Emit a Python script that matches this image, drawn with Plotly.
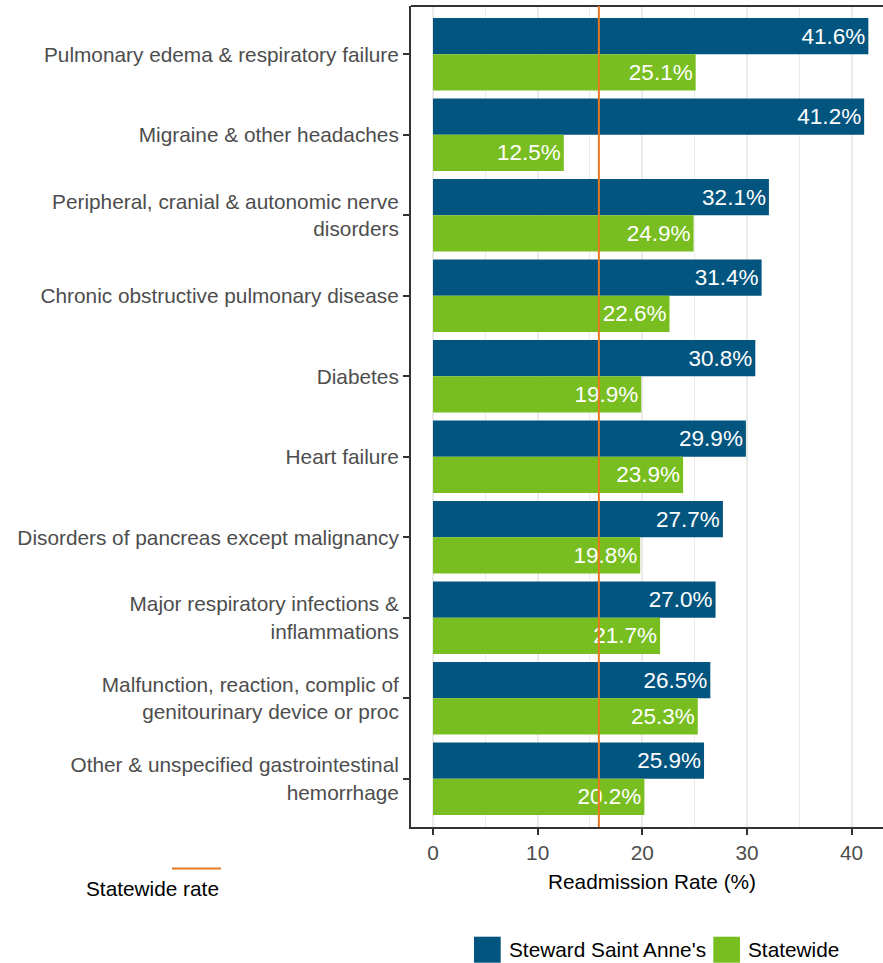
import plotly.graph_objects as go

categories = [
    "Pulmonary edema & respiratory failure",
    "Migraine & other headaches",
    "Peripheral, cranial & autonomic nerve<br>disorders",
    "Chronic obstructive pulmonary disease",
    "Diabetes",
    "Heart failure",
    "Disorders of pancreas except malignancy",
    "Major respiratory infections &<br>inflammations",
    "Malfunction, reaction, complic of<br>genitourinary device or proc",
    "Other & unspecified gastrointestinal<br>hemorrhage",
]
hospital_name = "Steward Saint Anne's"
hospital_rates = [41.6, 41.2, 32.1, 31.4, 30.8, 29.9, 27.7, 27.0, 26.5, 25.9]
statewide_name = "Statewide"
statewide_rates = [25.1, 12.5, 24.9, 22.6, 19.9, 23.9, 19.8, 21.7, 25.3, 20.2]
statewide_rate = 15.85
x_ticks = [0, 10, 20, 30, 40]

BLUE = "#02557F"
GREEN = "#78BE20"
ORANGE = "#E87722"
FONT = "Liberation Sans, Arial, sans-serif"

W, H = 883, 963
ML, MR, MT, MB = 411, 0, 6, 136
PW, PH = W - ML - MR, H - MT - MB


def px(x):
    return (x - ML) / PW


def py(y):
    return (H - MB - y) / PH


fig = go.Figure()
for name, vals, col in [(hospital_name, hospital_rates, BLUE), (statewide_name, statewide_rates, GREEN)]:
    fig.add_trace(go.Bar(
        y=categories, x=vals, name=name, orientation="h",
        marker=dict(color=col, line=dict(width=0)),
        texttemplate="%{x:.1f}%", textposition="inside", insidetextanchor="end",
        textangle=0, constraintext="none",
        textfont=dict(color="white", size=22.5, family=FONT),
        showlegend=False,
    ))

fig.update_layout(
    width=W, height=H,
    margin=dict(l=ML, r=MR, t=MT, b=MB, pad=0),
    paper_bgcolor="white", plot_bgcolor="white",
    barmode="group", bargap=0.1, bargroupgap=0,
    font=dict(family=FONT, size=20.8, color="#4D4D4D"),
)
fig.update_xaxes(
    range=[-2.1, 43.0], tickvals=x_ticks, ticktext=[str(t) for t in x_ticks],
    showgrid=True, gridcolor="#EBEBEB", gridwidth=2,
    minor=dict(dtick=5, tick0=0, showgrid=True, gridcolor="#EBEBEB", gridwidth=1),
    zeroline=False, showline=True, linecolor="#333333", linewidth=2,
    ticks="outside", ticklen=6, tickwidth=2, tickcolor="#333333",
    tickfont=dict(size=20.8, color="#4D4D4D"),
)
fig.update_yaxes(
    categoryorder="array", categoryarray=categories,
    range=[9.6, -0.6], autorange=False,
    showgrid=False, zeroline=False, showline=True, linecolor="#333333", linewidth=2,
    ticks="outside", ticklen=6, tickwidth=2, tickcolor="#333333",
    tickfont=dict(size=20.8, color="#4D4D4D"),
)

# x axis title (centred on the full ggplot panel, which runs past the page edge)
fig.add_annotation(text="Readmission Rate (%)", xref="paper", yref="paper", x=px(651.5), y=py(881),
                   xanchor="center", yanchor="middle", showarrow=False,
                   font=dict(size=20.8, color="black"))

# panel top border
fig.add_shape(type="line", xref="paper", yref="paper", x0=0, x1=1, y0=1, y1=1,
              line=dict(color="#333333", width=2), layer="above")
# statewide reference line
fig.add_shape(type="line", xref="x", yref="paper", x0=statewide_rate, x1=statewide_rate,
              y0=0, y1=1, line=dict(color=ORANGE, width=2), layer="above")

# statewide rate legend (key above label)
fig.add_shape(type="line", xref="paper", yref="paper", x0=px(172), x1=px(221),
              y0=py(868.5), y1=py(868.5), line=dict(color=ORANGE, width=2))
fig.add_annotation(text="Statewide rate", xref="paper", yref="paper", x=px(152.5), y=py(888),
                   xanchor="center", yanchor="middle", showarrow=False,
                   font=dict(size=20.8, color="black"))

# bar legend
for x0, x1, col, tx, label in [(474, 500.7, BLUE, 506.7, hospital_name),
                               (713.3, 740, GREEN, 746, statewide_name)]:
    fig.add_shape(type="rect", xref="paper", yref="paper", x0=px(x0), x1=px(x1),
                  y0=py(962.7), y1=py(936.7), fillcolor=col, line=dict(width=0))
    fig.add_annotation(text=label, xref="paper", yref="paper", x=px(tx), y=py(949.7),
                       xanchor="left", yanchor="middle", showarrow=False,
                       font=dict(size=20.8, color="black"))

fig.write_html(
    "out.html",
    config={"displayModeBar": False},
    post_script="document.body.style.margin='0';document.body.style.overflow='hidden';",
)
